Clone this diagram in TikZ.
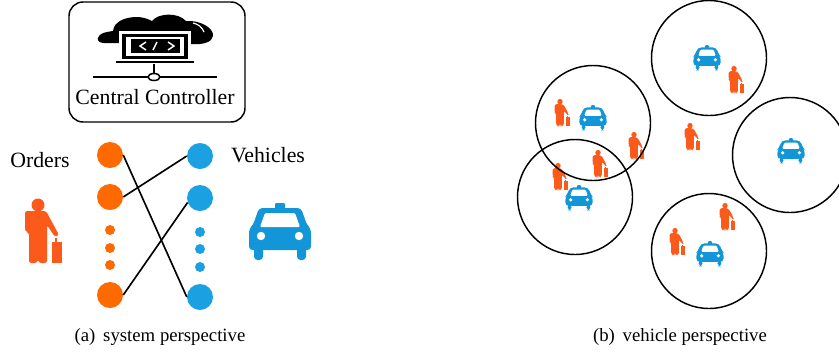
\documentclass[tikz,border=0pt]{standalone}
\usepackage{fontspec}
\setmainfont{Liberation Serif}
\definecolor{orderdot}{HTML}{FF6A00}
\definecolor{orderman}{HTML}{FC5A1A}
\definecolor{vehicledot}{HTML}{1BA1E2}
\definecolor{vehiclecar}{HTML}{1296D8}
\tikzset{
  bigdot/.style={circle, inner sep=0pt, minimum size=0.78cm},
  smalldot/.style={circle, inner sep=0pt, minimum size=0.3cm},
  zone/.style={circle, draw, line width=1.25pt, inner sep=0pt, minimum size=3.45cm},
  lbl/.style={inner sep=0pt, font=\fontsize{18.6}{21}\selectfont},
  capt/.style={inner sep=0pt, font=\fontsize{16}{18}\selectfont},
  match/.style={line width=1.4pt},
  person/.pic={
    \fill[orderman] (0,-27) circle (6.5);
    \fill[orderman, rounded corners=2] (-13,-21) -- (8,-21) -- (21,3) -- (17,5) -- (9,-7)
      -- (9,31) -- (1,31) -- (0,27) -- (-1,31) -- (-9,31) -- (-9,1) -- (-13,-1) -- cycle;
    \fill[orderman] (14,10) rectangle (24,31);
    \fill[orderman] (17,6) rectangle (19,10);
  },
  taxi/.pic={
    \fill[vehiclecar, rounded corners=1] (-5,-29) rectangle (5,-21);
    \fill[vehiclecar, rounded corners=3] (-21,-24) -- (21,-24) -- (27,-7) -- (31,-3) -- (31,18)
      -- (-31,18) -- (-31,-3) -- (-27,-7) -- cycle;
    \fill[white, rounded corners=1] (-15,-19) -- (15,-19) -- (20,-5) -- (-20,-5) -- cycle;
    \fill[white] (-19,4) circle (4.2) (19,4) circle (4.2);
    \fill[vehiclecar, rounded corners=3] (-26,14) rectangle (-17,28);
    \fill[vehiclecar, rounded corners=3] (17,14) rectangle (26,28);
  }
}
\begin{document}
\begin{tikzpicture}[x=0.03cm, y=-0.03cm]
  \clip (0,0) rectangle (839,354);
  \fill[white] (0,0) rectangle (839,354);
  % Controller
  \draw[line width=1.25pt, rounded corners=0.42cm] (69,2) rectangle (245,122);
  \fill (98,38) .. controls (99,33) and (106,32) .. (113,31)
    .. controls (114,21) and (126,17) .. (137,17) .. controls (143,17) and (148,19) .. (152,21)
    .. controls (158,13) and (178,12) .. (186,21) .. controls (200,20) and (214,28) .. (213,36)
    .. controls (212,42) and (204,45) .. (190,44) -- (122,43) -- (104,43)
    .. controls (100,43) and (97,41) .. (98,38) -- cycle;
  \draw[white, line width=1pt] (193,23) .. controls (198,24) and (202,27) .. (204,32);
  \fill[white] (119,31) rectangle (191,62);
  \fill (122,34) rectangle (188,59);
  \fill[white] (126,37) rectangle (184,56);
  \fill (131,39) rectangle (180,53);
  \draw[white, line width=1.2pt] (146,42) -- (140,46) -- (146,50) (153,50) -- (157,42)
    (168,42) -- (174,46) -- (168,50);
  \draw[line width=1.2pt] (116,62) -- (194,62);
  \draw[line width=2pt] (154,64) -- (154,74);
  \draw[line width=1.3pt] (93,77) -- (217,77);
  \draw[line width=1.3pt, fill=white] (154,77) ellipse (6 and 3.5);
  \node[lbl] (ctrl) at (155,97) {Central Controller};
  % Ordini e veicoli
  \node[lbl] (orders) at (40,160) {Orders};
  \node[lbl] (vehicles) at (268,155) {Vehicles};
  \pic at (38,232) {person};
  \pic at (280,232) {taxi};
  \foreach \name/\y in {o1/155, o2/197, o4/295}
    \node[bigdot, fill=orderdot] (\name) at (110,\y) {};
  \foreach \name/\y in {o5/230, o6/248, o7/265}
    \node[smalldot, fill=orderdot] (\name) at (110,\y) {};
  \foreach \name/\y in {v1/156, v2/198, v4/297}
    \node[bigdot, fill=vehicledot] (\name) at (200,\y) {};
  \foreach \name/\y in {v5/232, v6/249, v7/267}
    \node[smalldot, fill=vehicledot] (\name) at (200,\y) {};
  \draw[match] (o1.east) -- (v4.west);
  \draw[match] (o2.east) -- (v1.west);
  \draw[match] (o4.east) -- (v2.200);
  \node[capt] (capta) at (160,337) {(a)\, system perspective};
  % Zone
  \foreach \x/\y in {560/113, 734/80, 634/146, 598/164, 558/177, 690/137, 725/217, 675/242}
    \pic[scale=0.42] at (\x,\y) {person};
  \foreach \x/\y in {593/118, 707/58, 791/151, 579/198, 710/254}
    \pic[scale=0.44] at (\x,\y) {taxi};
  \foreach \name/\x/\y in {z1/593/123, z2/575/197, z3/709/58, z4/790/155, z5/709/251}
    \node[zone] (\name) at (\x,\y) {};
  \node[capt] (captb) at (680,337) {(b)\, vehicle perspective};
\end{tikzpicture}
\end{document}
